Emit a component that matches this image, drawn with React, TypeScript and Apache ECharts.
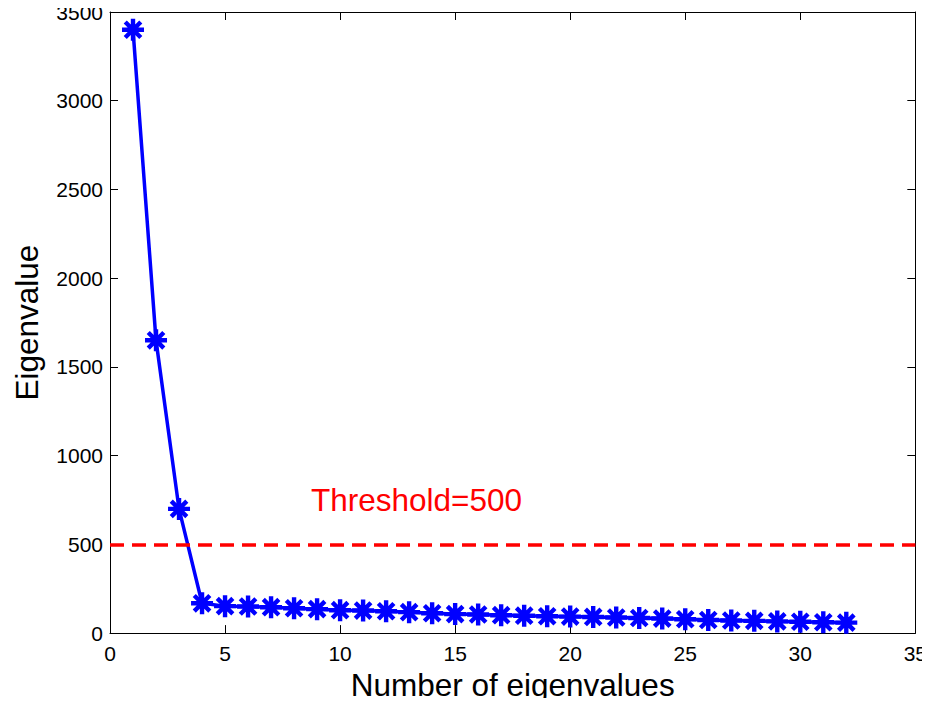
import React, { useEffect, useRef } from "react";
import * as echarts from "echarts";

const xValues = [1,2,3,4,5,6,7,8,9,10,11,12,13,14,15,16,17,18,19,20,21,22,23,24,25,26,27,28,29,30,31,32];
const eigenvalues = [3400,1650,700,168,152,150,146,140,135,129,127,123,118,112,107,105,101,98,95,93,91,88,85,82,78,74,71,69,66,64,61,59];
const threshold = 500;
const thresholdLabel = "Threshold=500";
const xTitle = "Number of eigenvalues";
const yTitle = "Eigenvalue";

const asterisk =
  "path://M-10,-2L10,-2L10,2L-10,2Z" +
  "M2,-10L2,10L-2,10L-2,-10Z" +
  "M-5.66,-8.49L8.49,5.66L5.66,8.49L-8.49,-5.66Z" +
  "M-8.49,5.66L5.66,-8.49L8.49,-5.66L-5.66,8.49Z";

export default function App() {
  const ref = useRef<HTMLDivElement>(null);
  useEffect(() => {
    if (!ref.current) return;
    const chart = echarts.init(ref.current, undefined, { renderer: "svg" });
    const font = "Liberation Sans";
    const axisCommon = {
      axisLine: { show: true, onZero: false, lineStyle: { color: "#000", width: 1 } },
      axisTick: { show: true, inside: true, length: 8, lineStyle: { color: "#000" } },
      splitLine: { show: false },
    };
    chart.setOption({
      animation: false,
      backgroundColor: "#fff",
      grid: { left: 110, right: 14, top: 12, bottom: 71, containLabel: false },
      xAxis: [
        {
          type: "value", min: 0, max: 35, interval: 5, position: "bottom",
          ...axisCommon,
          axisLabel: { color: "#000", fontSize: 21, fontFamily: font, margin: 10, formatter: (v: number) => String(v) },
          name: xTitle, nameLocation: "middle", nameGap: 34,
          nameTextStyle: { color: "#000", fontSize: 31.5, fontFamily: font },
        },
        {
          type: "value", min: 0, max: 35, interval: 5, position: "top",
          ...axisCommon,
          axisLabel: { show: false },
        },
      ],
      yAxis: [
        {
          type: "value", min: 0, max: 3500, interval: 500, position: "left",
          ...axisCommon,
          axisLabel: { color: "#000", fontSize: 21, fontFamily: font, margin: 7, formatter: (v: number) => String(v) },
          name: yTitle, nameLocation: "middle", nameGap: 67,
          nameTextStyle: { color: "#000", fontSize: 31.5, fontFamily: font },
        },
        {
          type: "value", min: 0, max: 3500, interval: 500, position: "right",
          ...axisCommon,
          axisLabel: { show: false },
        },
      ],
      series: [
        {
          type: "line",
          data: xValues.map((x, i) => [x, eigenvalues[i]]),
          lineStyle: { color: "#0000ff", width: 3.5 },
          itemStyle: { color: "#0000ff" },
          symbol: asterisk,
          symbolSize: 22,
          showSymbol: true,
          z: 3,
          markLine: {
            silent: true,
            symbol: "none",
            label: { show: false },
            lineStyle: { color: "#ff0000", width: 3.5, type: [14, 8] },
            data: [{ yAxis: threshold }],
          },
        },
      ],
      graphic: [
        {
          type: "text",
          left: 311,
          top: 484,
          style: { text: thresholdLabel, fill: "#ff0000", fontSize: 31.5, fontFamily: font },
        },
      ],
    });
    return () => chart.dispose();
  }, []);
  return <div ref={ref} style={{ width: 930, height: 706, margin: -8 }} />;
}
